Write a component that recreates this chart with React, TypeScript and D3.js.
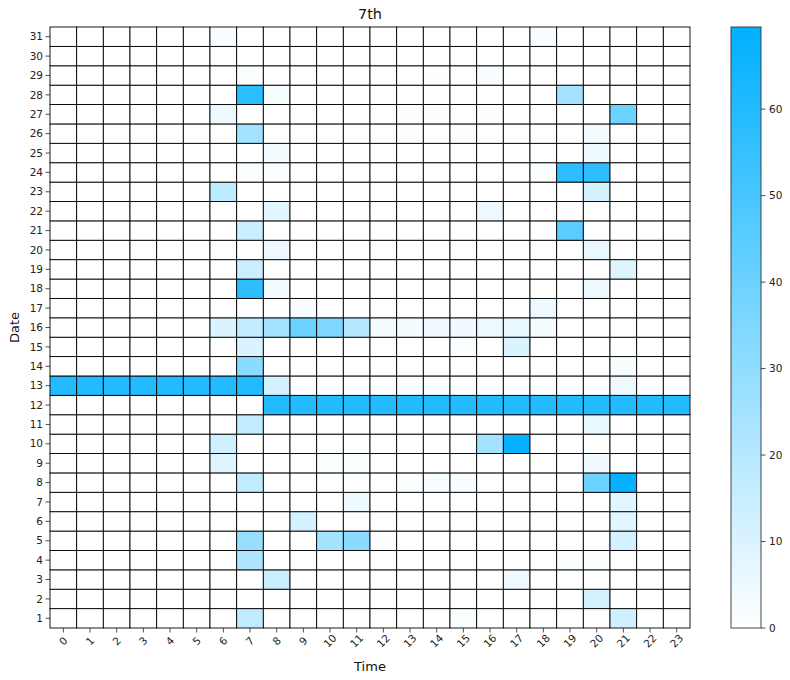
import React from "react";
import * as d3 from "d3";

const hours: number[] = d3.range(0, 24);
const dates: number[] = d3.range(1, 32);
const colorTicks: number[] = [0, 10, 20, 30, 40, 50, 60];
const vMax = 69.5;

// full rows
const row13: number[] = [60, 60, 60, 60, 60, 60, 60, 60, 12, 0, 0, 0, 0, 1, 1, 0, 0, 0, 0, 0, 0, 5, 0, 0];
const row12: number[] = [0, 0, 0, 0, 0, 0, 0, 0, 60, 60, 60, 60, 60, 60, 60, 60, 60, 60, 60, 60, 60, 60, 60, 60];
const row16: number[] = [0, 0, 0, 0, 0, 0, 10, 17, 25, 40, 35, 20, 3, 3, 4, 4, 5, 6, 3, 0, 0, 0, 0, 0];

// sparse cells: [date, hour, value]
const sparse: [number, number, number][] = [
  [31, 6, 2], [31, 18, 2],
  [29, 7, 1], [29, 16, 2], [29, 14, 0.5],
  [28, 7, 58], [28, 8, 2], [28, 19, 25],
  [27, 6, 5], [27, 21, 40], [27, 13, 0.5], [27, 14, 0.5], [27, 16, 0.5],
  [26, 7, 25], [26, 20, 3], [26, 13, 0.5], [26, 15, 0.5],
  [25, 8, 3], [25, 20, 5],
  [24, 7, 1], [24, 8, 1], [24, 18, 1], [24, 19, 57], [24, 20, 57],
  [23, 6, 18], [23, 20, 12],
  [22, 8, 8], [22, 16, 5],
  [21, 7, 15], [21, 19, 45],
  [20, 8, 5], [20, 20, 6],
  [19, 7, 14], [19, 21, 9],
  [18, 7, 57], [18, 8, 3], [18, 20, 5],
  [17, 9, 2], [17, 18, 5],
  [15, 7, 10], [15, 17, 10], [15, 15, 1],
  [14, 7, 32], [14, 21, 2],
  [11, 7, 17], [11, 20, 6],
  [10, 6, 13], [10, 16, 25], [10, 17, 68],
  [9, 6, 9], [9, 10, 1], [9, 11, 1], [9, 20, 4],
  [8, 7, 17], [8, 13, 1], [8, 14, 2], [8, 15, 2], [8, 20, 40], [8, 21, 68],
  [7, 11, 5], [7, 21, 8],
  [6, 9, 12], [6, 21, 8],
  [5, 7, 28], [5, 10, 25], [5, 11, 32], [5, 21, 12], [5, 12, 0.5],
  [4, 7, 22], [4, 19, 1], [4, 20, 1],
  [3, 8, 15], [3, 17, 5],
  [2, 20, 12],
  [1, 7, 17], [1, 15, 1], [1, 21, 13],
];

function buildCells() {
  const m = new Map<string, number>();
  dates.forEach((d) => hours.forEach((h) => m.set(`${d}-${h}`, 0)));
  row13.forEach((v, h) => m.set(`13-${h}`, v));
  row12.forEach((v, h) => m.set(`12-${h}`, v));
  row16.forEach((v, h) => m.set(`16-${h}`, v));
  sparse.forEach(([d, h, v]) => m.set(`${d}-${h}`, v));
  const out: { d: number; h: number; v: number }[] = [];
  m.forEach((v, k) => {
    const [d, h] = k.split("-").map(Number);
    out.push({ d, h, v });
  });
  return out;
}

export default function App() {
  const W = 790, H = 680;
  const left = 50, right = 690, top = 27, bottom = 628;
  const x = d3.scaleBand<number>().domain(hours).range([left, right]).paddingInner(0).paddingOuter(0);
  const y = d3.scaleBand<number>().domain([...dates].reverse()).range([top, bottom]);
  const color = d3.scaleLinear<string>().domain([0, vMax]).range(["#ffffff", "#00b0ff"]).interpolate(d3.interpolateRgb).clamp(true);
  const cells = buildCells();

  const cbX = 731, cbW = 30;
  const cbY = d3.scaleLinear().domain([0, vMax]).range([bottom, top]);
  const font = "DejaVu Sans, sans-serif";
  const stops = d3.range(0, 11).map((i) => i / 10);

  return (
    <svg width={W} height={H} style={{ position: "absolute", left: 0, top: 0, background: "#fff" }} fontFamily={font}>
      <defs>
        <linearGradient id="cb" x1="0" y1="1" x2="0" y2="0">
          {stops.map((s) => (
            <stop key={s} offset={s} stopColor={color(s * vMax)} />
          ))}
        </linearGradient>
      </defs>
      <text x={(left + right) / 2} y={19} textAnchor="middle" fontSize={14.5} fill="#111">7th</text>
      {cells.map((c) => (
        <rect
          key={`${c.d}-${c.h}`}
          x={x(c.h)!}
          y={y(c.d)!}
          width={x.bandwidth()}
          height={y.bandwidth()}
          fill={color(c.v)}
          stroke="#000"
          strokeWidth={0.9}
        />
      ))}
      {/* y ticks */}
      {dates.map((d) => {
        const yy = y(d)! + y.bandwidth() / 2;
        return (
          <g key={d}>
            <line x1={left - 4.5} x2={left} y1={yy} y2={yy} stroke="#222" strokeWidth={0.8} />
            <text x={left - 7} y={yy} dy="0.35em" textAnchor="end" fontSize={10.5} fill="#222">{d}</text>
          </g>
        );
      })}
      {/* x ticks */}
      {hours.map((h) => {
        const xx = x(h)! + x.bandwidth() / 2;
        return (
          <g key={h}>
            <line x1={xx} x2={xx} y1={bottom} y2={bottom + 4.5} stroke="#222" strokeWidth={0.8} />
            <text
              transform={`translate(${xx},${bottom + 13}) rotate(-45)`}
              textAnchor="middle"
              dy="0.35em"
              fontSize={10.5}
              fill="#222"
            >
              {h}
            </text>
          </g>
        );
      })}
      <text x={(left + right) / 2} y={671} textAnchor="middle" fontSize={13} fill="#111">Time</text>
      <text transform={`translate(19,${(top + bottom) / 2}) rotate(-90)`} textAnchor="middle" fontSize={13} fill="#111">Date</text>
      {/* colorbar */}
      <rect x={cbX} y={top} width={cbW} height={bottom - top} fill="url(#cb)" stroke="#333" strokeWidth={0.9} />
      {colorTicks.map((t) => (
        <g key={t}>
          <line x1={cbX + cbW} x2={cbX + cbW + 4.5} y1={cbY(t)} y2={cbY(t)} stroke="#222" strokeWidth={0.8} />
          <text x={cbX + cbW + 8} y={cbY(t)} dy="0.35em" fontSize={10.5} fill="#222">{t}</text>
        </g>
      ))}
    </svg>
  );
}
